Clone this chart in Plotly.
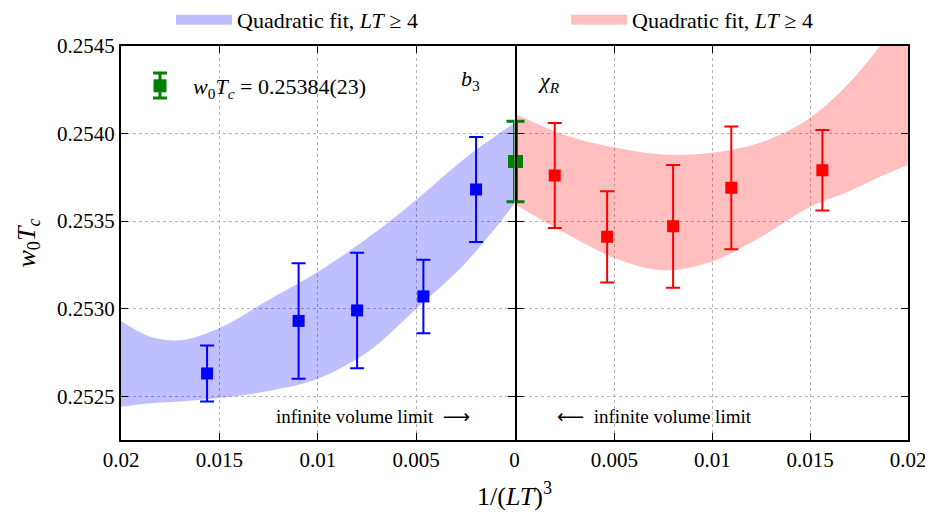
import plotly.graph_objects as go

# ---- data ----
inv_LT3 = [0.015625, 0.010974, 0.008, 0.00463, 0.001953]  # 1/(LT)^3 for LT = 4, 4.5, 5, 6, 8

b3_val = [0.25263, 0.25293, 0.25299, 0.25307, 0.25368]
b3_err = [0.00016, 0.00033, 0.00033, 0.00021, 0.00030]

chiR_val = [0.25379, 0.25369, 0.25347, 0.25341, 0.25376]
chiR_err = [0.00023, 0.00035, 0.00035, 0.00026, 0.00030]

inf_val = [0.25384]
inf_err = [0.00023]

band_x = [0, 0.0025, 0.005, 0.0075, 0.01, 0.0125, 0.015, 0.017, 0.0185, 0.02]
b3_upper = [0.25406, 0.25386, 0.25362, 0.25340, 0.25321, 0.25305, 0.25289, 0.25282, 0.25284, 0.25293]
b3_lower = [0.25360, 0.25326, 0.25300, 0.25275, 0.25260, 0.25253, 0.25249, 0.25247, 0.25246, 0.25244]
chiR_upper = [0.25411, 0.25399, 0.25392, 0.25388, 0.25389, 0.25395, 0.25409, 0.25429, 0.25449, 0.25470]
chiR_lower = [0.25359, 0.25343, 0.25329, 0.25322, 0.25327, 0.25341, 0.25358, 0.25367, 0.25375, 0.25382]

y_ticks = [0.2525, 0.2530, 0.2535, 0.2540, 0.2545]
x_ticks_left = [0, 0.005, 0.01, 0.015, 0.02]
x_ticktext_left = ["0", "0.005", "0.01", "0.015", "0.02"]
x_ticks_right = [0.005, 0.01, 0.015, 0.02]
x_ticktext_right = ["0.005", "0.01", "0.015", "0.02"]

FONT = "Liberation Serif"
BLUE_BAND = "rgba(0,0,255,0.25)"
RED_BAND = "rgba(255,0,0,0.25)"
GREEN = "#008000"
fit_label = "Quadratic fit, <i>LT</i> ≥ 4"

fig = go.Figure()

# blue band (left panel)
fig.add_trace(go.Scatter(x=band_x, y=b3_lower, mode="lines", line=dict(width=0, shape="spline"),
                         xaxis="x", yaxis="y", showlegend=False, hoverinfo="skip"))
fig.add_trace(go.Scatter(x=band_x, y=b3_upper, mode="lines", line=dict(width=0, shape="spline"),
                         fill="tonexty", fillcolor=BLUE_BAND, showlegend=False,
                         xaxis="x", yaxis="y"))
# red band (right panel)
fig.add_trace(go.Scatter(x=band_x, y=chiR_lower, mode="lines", line=dict(width=0, shape="spline"),
                         xaxis="x2", yaxis="y2", showlegend=False, hoverinfo="skip"))
fig.add_trace(go.Scatter(x=band_x, y=chiR_upper, mode="lines", line=dict(width=0, shape="spline"),
                         fill="tonexty", fillcolor=RED_BAND, showlegend=False,
                         xaxis="x2", yaxis="y2"))

# legend swatches for the two bands
fig.add_trace(go.Scatter(x=[None], y=[None], mode="lines", line=dict(color=BLUE_BAND, width=20),
                         name=fit_label, xaxis="x", yaxis="y", legend="legend"))
fig.add_trace(go.Scatter(x=[None], y=[None], mode="lines", line=dict(color=RED_BAND, width=20),
                         name=fit_label, xaxis="x2", yaxis="y2", legend="legend3"))

# data points
fig.add_trace(go.Scatter(x=inv_LT3, y=b3_val, mode="markers",
                         marker=dict(symbol="square", size=12, color="#0000ff"),
                         error_y=dict(type="data", array=b3_err, color="#0000ff", thickness=2, width=7),
                         xaxis="x", yaxis="y", showlegend=False))
fig.add_trace(go.Scatter(x=inv_LT3, y=chiR_val, mode="markers",
                         marker=dict(symbol="square", size=12, color="#ff0000"),
                         error_y=dict(type="data", array=chiR_err, color="#ff0000", thickness=2, width=7),
                         xaxis="x2", yaxis="y2", showlegend=False))

# infinite-volume result drawn in both panels (each half visible)
fig.add_trace(go.Scatter(x=[0], y=inf_val, mode="markers",
                         marker=dict(symbol="square", size=13, color=GREEN),
                         error_y=dict(type="data", array=inf_err, color=GREEN, thickness=3, width=8),
                         xaxis="x", yaxis="y",
                         name="<i>w</i><sub>0</sub><i>T</i><sub><i>c</i></sub> = 0.25384(23)",
                         legend="legend2"))
fig.add_trace(go.Scatter(x=[0], y=inf_val, mode="markers",
                         marker=dict(symbol="square", size=13, color=GREEN),
                         error_y=dict(type="data", array=inf_err, color=GREEN, thickness=3, width=8),
                         xaxis="x2", yaxis="y2", showlegend=False))

axis_common = dict(showline=True, linecolor="black", linewidth=2, mirror="ticks",
                   ticks="inside", ticklen=7, tickwidth=1.4, tickcolor="black",
                   showgrid=True, gridcolor="#b5b5b5", griddash="dot", gridwidth=1,
                   zeroline=False, tickfont=dict(family=FONT, size=21, color="black"))

y_range = [0.25225, 0.2545]
ARROW = "font-family:DejaVu Sans"

# page body adds an 8px offset: figure is 925x510 so the full page is 933x518
PLOT_W = 787
PLOT_H = 394

def px_x(px):
    return (px - 121) / PLOT_W

def px_y(py):
    return (440 - py) / PLOT_H

# right panel starts 2px later so the two 2px divider lines coincide
right_start = 0.5 + 2 / PLOT_W

# small error-bar glyph for the legend entry of the infinite-volume point
gx = px_x(160)
cap = 7 / PLOT_W
glyph_shapes = [
    dict(type="line", xref="paper", yref="paper", x0=gx, x1=gx, y0=px_y(73), y1=px_y(98),
         line=dict(color=GREEN, width=3)),
    dict(type="line", xref="paper", yref="paper", x0=gx - cap, x1=gx + cap, y0=px_y(73), y1=px_y(73),
         line=dict(color=GREEN, width=3)),
    dict(type="line", xref="paper", yref="paper", x0=gx - cap, x1=gx + cap, y0=px_y(98), y1=px_y(98),
         line=dict(color=GREEN, width=3)),
]

fig.update_layout(
    width=925, height=510,
    margin=dict(l=113, r=25, t=38, b=78, autoexpand=False),
    plot_bgcolor="white", paper_bgcolor="white",
    font=dict(family=FONT, color="black"),
    xaxis=dict(domain=[0, 0.5], range=[0.02, 0], tickvals=x_ticks_left, ticktext=x_ticktext_left,
               anchor="y", **axis_common),
    xaxis2=dict(domain=[right_start, 1], range=[0, 0.02], tickvals=x_ticks_right,
                ticktext=x_ticktext_right, anchor="y2", **axis_common),
    yaxis=dict(domain=[0, 1], range=y_range, tickvals=y_ticks,
               ticktext=[f"{v:.4f}" for v in y_ticks], anchor="x",
               title=dict(text="<i>w</i><sub>0</sub><i>T</i><sub><i>c</i></sub>",
                          font=dict(family=FONT, size=26), standoff=14),
               **axis_common),
    yaxis2=dict(domain=[0, 1], range=y_range, tickvals=y_ticks, showticklabels=False,
                anchor="x2", **axis_common),
    legend=dict(x=px_x(171), y=px_y(20), xanchor="left", yanchor="middle", itemwidth=56,
                font=dict(family=FONT, size=22), bgcolor="rgba(0,0,0,0)"),
    legend3=dict(x=px_x(566), y=px_y(20), xanchor="left", yanchor="middle", itemwidth=56,
                 font=dict(family=FONT, size=22), bgcolor="rgba(0,0,0,0)"),
    legend2=dict(x=px_x(127), y=px_y(86), xanchor="left", yanchor="middle", itemwidth=56,
                 font=dict(family=FONT, size=22), bgcolor="rgba(0,0,0,0)"),
    shapes=glyph_shapes,
    annotations=[
        dict(text="1/(<i>LT</i>)<sup>3</sup>", xref="paper", yref="paper", x=0.5, y=px_y(494),
             xanchor="center", yanchor="middle", showarrow=False, font=dict(family=FONT, size=26)),
        dict(text="<i>b</i><sub>3</sub>", xref="paper", yref="paper", x=px_x(470), y=px_y(80),
             xanchor="center", yanchor="middle", showarrow=False, font=dict(family=FONT, size=22)),
        dict(text="<i>χ</i><sub><i>R</i></sub>", xref="paper", yref="paper", x=px_x(549), y=px_y(82),
             xanchor="center", yanchor="middle", showarrow=False, font=dict(family=FONT, size=22)),
        dict(text=f"infinite volume limit  <span style='{ARROW}'>⟶</span>", xref="paper", yref="paper",
             x=px_x(373), y=px_y(416), xanchor="center", yanchor="middle",
             showarrow=False, font=dict(family=FONT, size=19)),
        dict(text=f"<span style='{ARROW}'>⟵</span>  infinite volume limit", xref="paper", yref="paper",
             x=px_x(654), y=px_y(416), xanchor="center", yanchor="middle",
             showarrow=False, font=dict(family=FONT, size=19)),
    ],
)

fig.write_html("out.html")
